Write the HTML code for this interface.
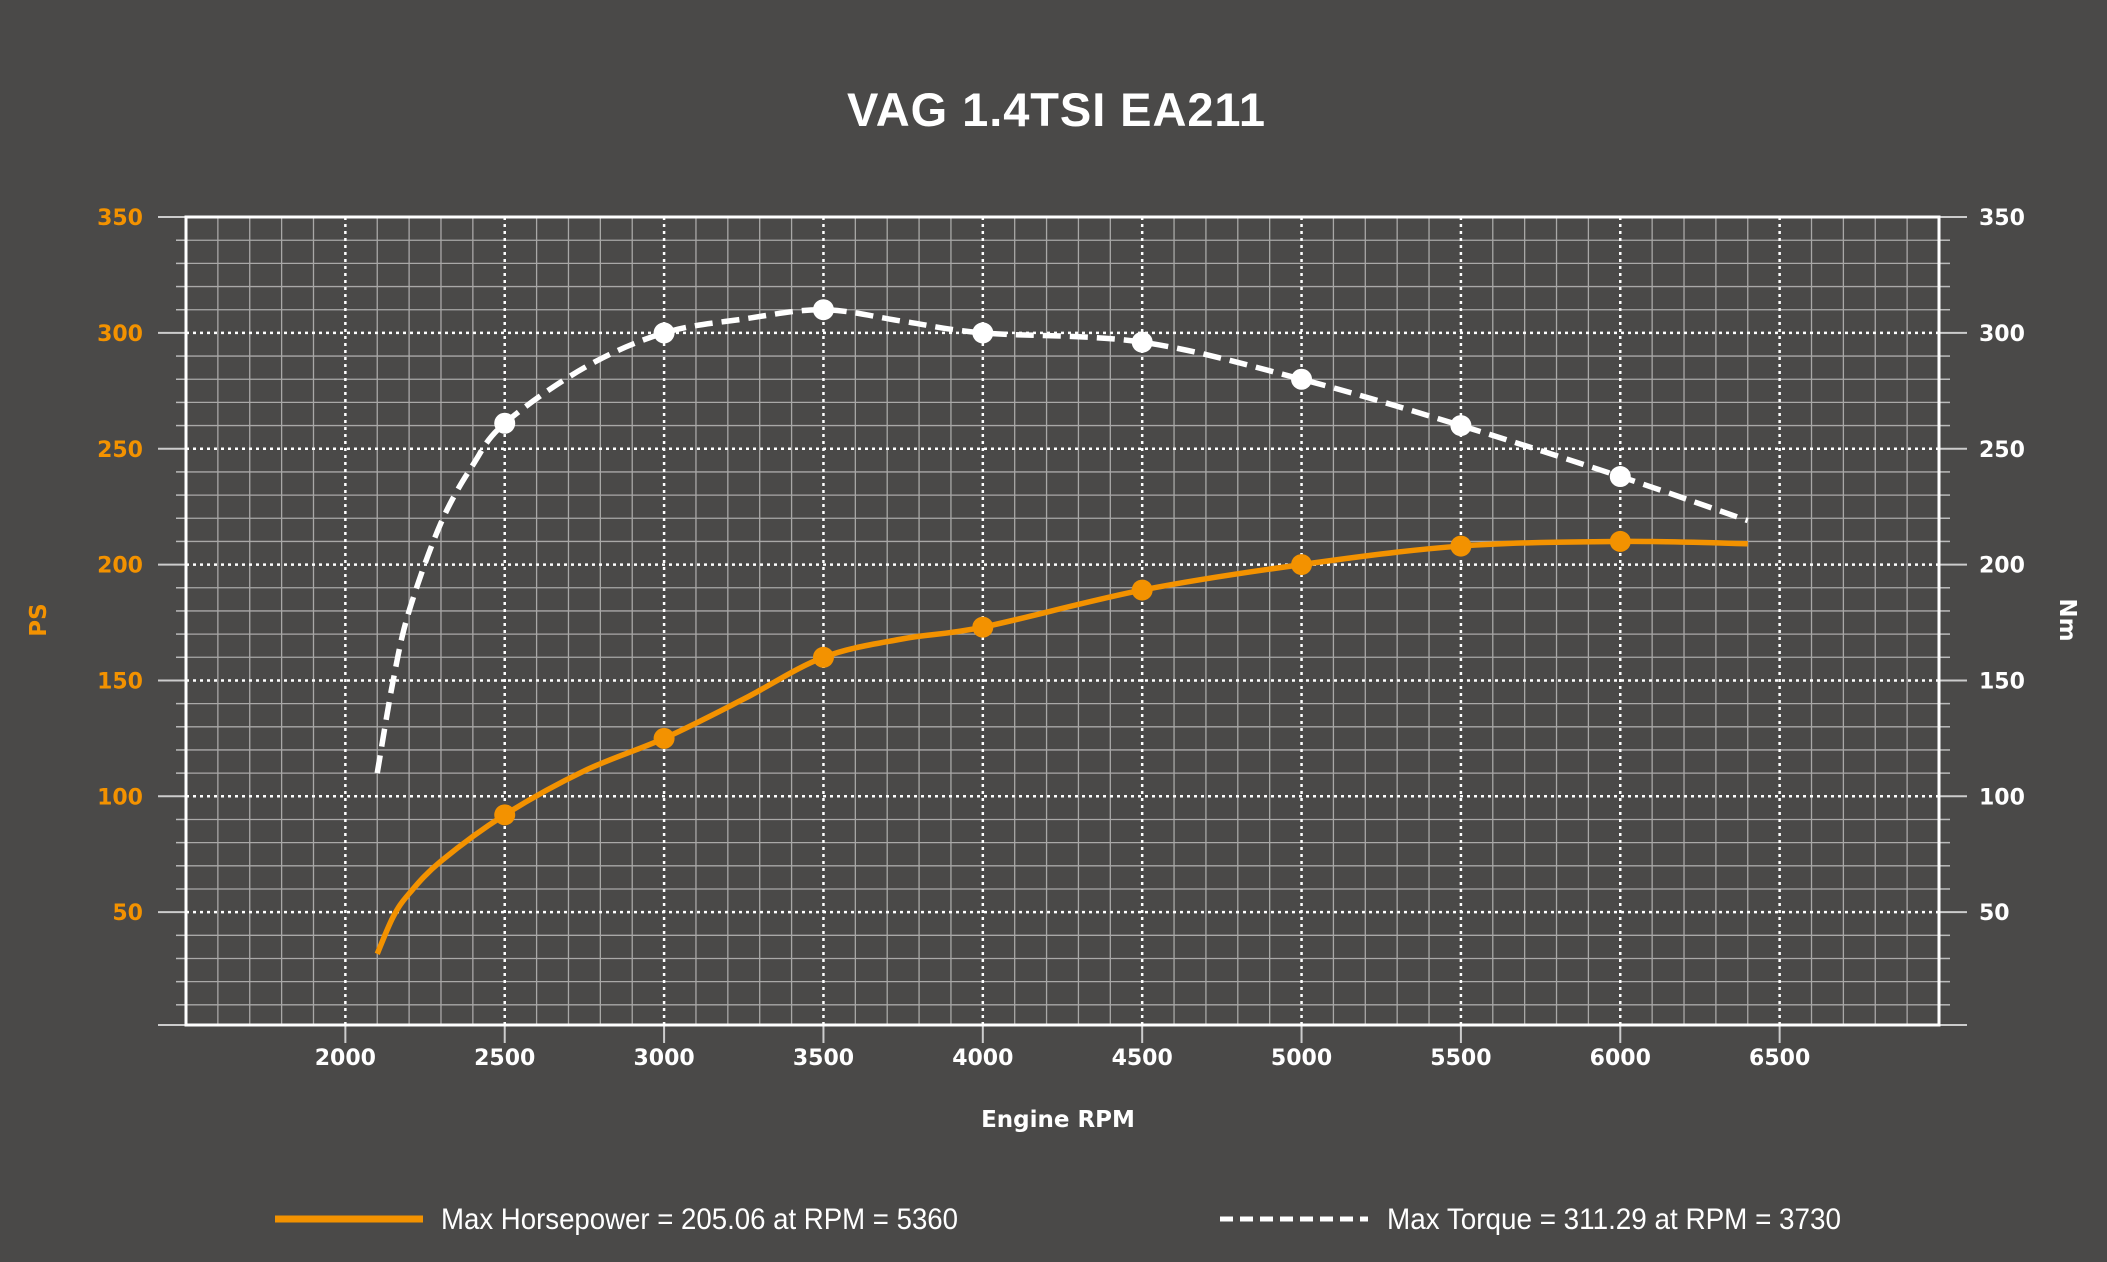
<!DOCTYPE html>
<html><head><meta charset="utf-8"><style>
html,body{margin:0;padding:0;background:#4a4948;}
svg{display:block;}
</style></head><body>
<svg id="s" width="2107" height="1262" xmlns="http://www.w3.org/2000/svg">
<rect width="2107" height="1262" fill="#4a4948"/>
<g id="grid"></g>
<text x="1056" y="126" text-anchor="middle" font-family="Liberation Sans, sans-serif" font-weight="bold" font-size="47" fill="#fff" textLength="418" lengthAdjust="spacing">VAG 1.4TSI EA211</text>
<text x="1058" y="1127" text-anchor="middle" font-family="DejaVu Sans, sans-serif" font-weight="bold" font-size="23" fill="#fff">Engine RPM</text>
<text transform="translate(46,620) rotate(-90)" text-anchor="middle" font-family="DejaVu Sans, sans-serif" font-weight="bold" font-size="23" fill="#f39200">PS</text>
<text transform="translate(2060,620) rotate(90)" text-anchor="middle" font-family="DejaVu Sans, sans-serif" font-weight="bold" font-size="23" fill="#fff">Nm</text>
<line x1="275" y1="1219" x2="423" y2="1219" stroke="#f39200" stroke-width="7"/>
<text x="441" y="1229" font-family="Liberation Sans, sans-serif" font-size="30" fill="#fff" textLength="517" lengthAdjust="spacingAndGlyphs">Max Horsepower = 205.06 at  RPM = 5360</text>
<line x1="1220" y1="1219" x2="1368" y2="1219" stroke="#fff" stroke-width="5" stroke-dasharray="13,7"/>
<text x="1387" y="1229" font-family="Liberation Sans, sans-serif" font-size="30" fill="#fff" textLength="454" lengthAdjust="spacingAndGlyphs">Max Torque = 311.29 at  RPM = 3730</text>
<g id="data"></g>
</svg>
<script>
var NS="http://www.w3.org/2000/svg";
function X(r){return 186+(r-1500)*1753/5500;}
function Y(v){return 1028-v*2.317;}
var g=document.getElementById('grid'),d=document.getElementById('data');
function el(p,tag,a,txt){var e=document.createElementNS(NS,tag);for(var k in a)e.setAttribute(k,a[k]);if(txt!=null)e.textContent=txt;p.appendChild(e);return e;}
var L=186,R=1939,T=217,B=1025;
for(var r=1600;r<7000;r+=100){if(r%500==0)continue;el(g,'line',{x1:X(r),x2:X(r),y1:T,y2:B,stroke:'#a9a8a7','stroke-width':1.3});}
for(var v=10;v<350;v+=10){if(v%50==0)continue;var y=Y(v);el(g,'line',{x1:L,x2:R,y1:y,y2:y,stroke:'#a9a8a7','stroke-width':1.3});
el(g,'line',{x1:176,x2:L,y1:y,y2:y,stroke:'#bbb','stroke-width':1.5});el(g,'line',{x1:R,x2:1950,y1:y,y2:y,stroke:'#bbb','stroke-width':1.5});}
for(var r=2000;r<7000;r+=500){el(g,'line',{x1:X(r),x2:X(r),y1:T,y2:B,stroke:'#fff','stroke-width':2.5,'stroke-dasharray':'3,4'});
el(g,'line',{x1:X(r),x2:X(r),y1:B,y2:1043,stroke:'#ccc','stroke-width':2});
if(r<=6500)el(g,'text',{x:X(r),y:1065,'text-anchor':'middle','font-family':'DejaVu Sans, sans-serif','font-weight':'bold','font-size':22,fill:'#fff'},r);}
for(var v=50;v<=350;v+=50){var y=Y(v);if(v<350)el(g,'line',{x1:L,x2:R,y1:y,y2:y,stroke:'#fff','stroke-width':2.5,'stroke-dasharray':'3,4'});
el(g,'line',{x1:158,x2:L,y1:y,y2:y,stroke:'#ccc','stroke-width':2});el(g,'line',{x1:R,x2:1967,y1:y,y2:y,stroke:'#ccc','stroke-width':2});
el(g,'text',{x:143,y:y+8,'text-anchor':'end','font-family':'DejaVu Sans, sans-serif','font-weight':'bold','font-size':22,fill:'#f39200'},v);
el(g,'text',{x:1979,y:y+8,'font-family':'DejaVu Sans, sans-serif','font-weight':'bold','font-size':22,fill:'#fff'},v);}
el(g,'line',{x1:158,x2:L,y1:B,y2:B,stroke:'#ccc','stroke-width':2});el(g,'line',{x1:R,x2:1967,y1:B,y2:B,stroke:'#ccc','stroke-width':2});
el(g,'rect',{x:L,y:T,width:R-L,height:B-T,fill:'none',stroke:'#fff','stroke-width':3});
function path(pts){var p=pts.map(function(a){return [X(a[0]),Y(a[1])];});var s='M'+p[0][0]+','+p[0][1];
for(var i=0;i<p.length-1;i++){var p0=p[i-1]||p[i],p1=p[i],p2=p[i+1],p3=p[i+2]||p2;
var c1=[p1[0]+(p2[0]-p0[0])/6,p1[1]+(p2[1]-p0[1])/6],c2=[p2[0]-(p3[0]-p1[0])/6,p2[1]-(p3[1]-p1[1])/6];
s+=' C'+c1+' '+c2+' '+p2;}return s;}
var tq=[[2100,110],[2150,150],[2200,180],[2300,218],[2400,243],[2500,261],[2750,285],[3000,300],[3250,306],[3500,310],[3750,305],[4000,300],[4500,296],[5000,280],[5500,260],[6000,238],[6400,219]];
var hp=[[2100,32],[2150,48],[2200,58],[2300,72],[2500,92],[2750,111],[3000,125],[3250,142],[3500,160],[3750,168],[4000,173],[4500,189],[5000,200],[5500,208],[6000,210],[6400,209]];
el(d,'path',{d:path(tq),fill:'none',stroke:'#fff','stroke-width':5.5,'stroke-dasharray':'18,9'});
el(d,'path',{d:path(hp),fill:'none',stroke:'#f39200','stroke-width':5.5});
[[2500,261],[3000,300],[3500,310],[4000,300],[4500,296],[5000,280],[5500,260],[6000,238]].forEach(function(a){el(d,'circle',{cx:X(a[0]),cy:Y(a[1]),r:10.5,fill:'#fff'});});
[[2500,92],[3000,125],[3500,160],[4000,173],[4500,189],[5000,200],[5500,208],[6000,210]].forEach(function(a){el(d,'circle',{cx:X(a[0]),cy:Y(a[1]),r:10.5,fill:'#f39200'});});
</script>
</body></html>
